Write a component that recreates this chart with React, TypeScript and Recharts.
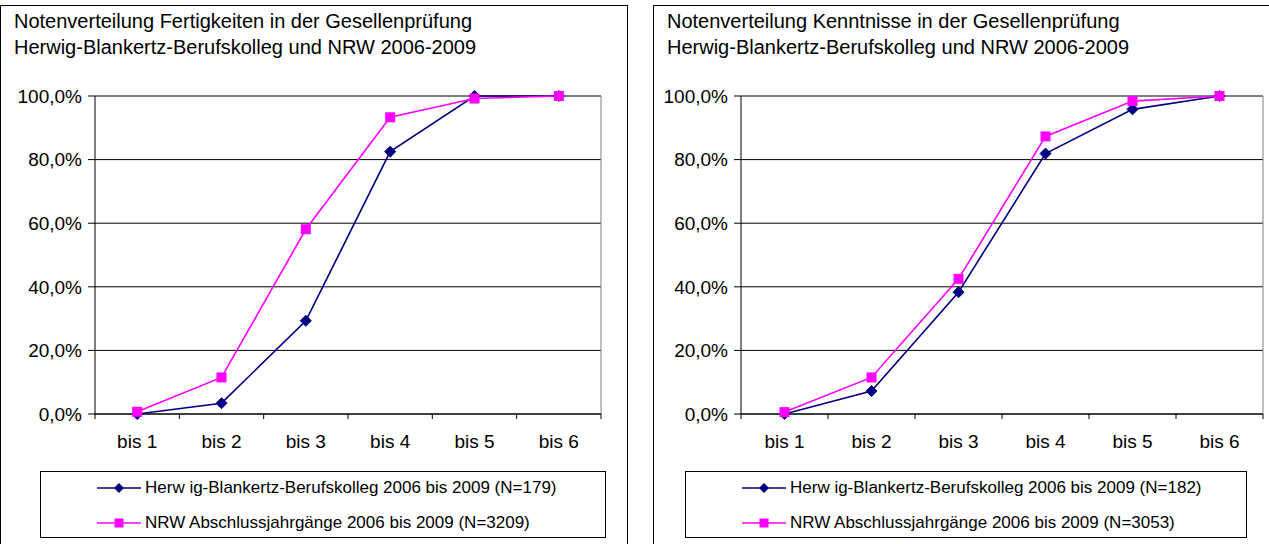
import React from 'react';
import { LineChart, Line, XAxis, YAxis, CartesianGrid } from 'recharts';

const categories = ['bis 1', 'bis 2', 'bis 3', 'bis 4', 'bis 5', 'bis 6'];
const yTicks = [0, 20, 40, 60, 80, 100];

// Fertigkeiten (links)
const fertigkeitenHbk = [0, 3.4, 29.3, 82.5, 100, 100];
const fertigkeitenNrw = [0.7, 11.5, 58.1, 93.3, 99.2, 100];

// Kenntnisse (rechts)
const kenntnisseHbk = [0, 7.2, 38.3, 81.9, 95.8, 100];
const kenntnisseNrw = [0.6, 11.5, 42.5, 87.3, 98.4, 100];

const FONT = '"Liberation Sans", Arial, sans-serif';
const NAVY = '#000080';
const MAGENTA = '#FF00FF';

const pct = (v: number) => `${v.toFixed(1).replace('.', ',')}%`;

const Diamond = (props: any) => {
  const { cx, cy } = props;
  if (cx == null || cy == null) return null;
  const r = 5.5;
  return (
    <polygon
      points={`${cx},${cy - r} ${cx + r},${cy} ${cx},${cy + r} ${cx - r},${cy}`}
      fill={NAVY}
      stroke={NAVY}
    />
  );
};

const Square = (props: any) => {
  const { cx, cy } = props;
  if (cx == null || cy == null) return null;
  return <rect x={cx - 5} y={cy - 5} width={10} height={10} fill={MAGENTA} />;
};

const makeTick = (band: number) => (props: any) => {
  const { x, y, payload, index } = props;
  const last = index === categories.length - 1;
  return (
    <g>
      <line x1={x - band / 2} x2={x - band / 2} y1={y} y2={y + 5} stroke="#000" />
      {last && <line x1={x + band / 2} x2={x + band / 2} y1={y} y2={y + 5} stroke="#000" />}
      <text x={x} y={y + 34} textAnchor="middle" fontSize={19} fontFamily={FONT} fill="#000">
        {payload.value}
      </text>
    </g>
  );
};

interface PanelProps {
  left: number;
  frameWidth: number;
  chartWidth: number;
  yAxisWidth: number;
  marginRight: number;
  title: string[];
  hbk: number[];
  nrw: number[];
  hbkLabel: string;
  nrwLabel: string;
  legendLeft: number;
  legendWidth: number;
}

function Panel(p: PanelProps) {
  const data = categories.map((c, i) => ({ name: c, hbk: p.hbk[i], nrw: p.nrw[i] }));
  const plotW = p.chartWidth - p.yAxisWidth - p.marginRight;
  const band = plotW / categories.length;
  const Tick = makeTick(band);

  return (
    <>
      <div
        style={{
          position: 'absolute',
          left: p.left,
          top: 5,
          width: p.frameWidth,
          height: 545,
          border: '1px solid #000',
          boxSizing: 'border-box',
        }}
      />
      <div
        style={{
          position: 'absolute',
          left: p.left + 14,
          top: 8,
          fontFamily: FONT,
          fontSize: 20,
          lineHeight: '26px',
          color: '#000',
          whiteSpace: 'nowrap',
        }}
      >
        {p.title.map((t) => (
          <div key={t}>{t}</div>
        ))}
      </div>
      <div style={{ position: 'absolute', left: p.left, top: 0 }}>
        <LineChart
          width={p.chartWidth}
          height={544}
          data={data}
          margin={{ top: 96, right: p.marginRight, bottom: 100, left: 0 }}
        >
          <CartesianGrid horizontal vertical={false} stroke="#000" />
          {/* plot-area frame on the right side */}
          <CartesianGrid
            horizontal={false}
            vertical
            stroke="#808080"
            verticalCoordinatesGenerator={({ offset }: any) => [offset.left + offset.width]}
          />
          <XAxis
            dataKey="name"
            height={30}
            axisLine={{ stroke: '#000' }}
            tickLine={false}
            tickSize={0}
            tickMargin={0}
            padding={{ left: band / 2, right: band / 2 }}
            tick={<Tick />}
            interval={0}
          />
          <YAxis
            width={p.yAxisWidth}
            domain={[0, 100]}
            ticks={yTicks}
            tickFormatter={pct}
            axisLine={{ stroke: '#000' }}
            tickLine={{ stroke: '#000' }}
            tickSize={7}
            tickMargin={6}
            tick={{ fontSize: 19, fontFamily: FONT, fill: '#000' }}
          />
          <Line
            dataKey="hbk"
            stroke={NAVY}
            strokeWidth={1.6}
            dot={<Diamond />}
            activeDot={false}
            isAnimationActive={false}
          />
          <Line
            dataKey="nrw"
            stroke={MAGENTA}
            strokeWidth={1.6}
            dot={<Square />}
            activeDot={false}
            isAnimationActive={false}
          />
        </LineChart>
      </div>
      <div
        style={{
          position: 'absolute',
          left: p.legendLeft,
          top: 471,
          width: p.legendWidth,
          height: 67,
          border: '1px solid #000',
          boxSizing: 'border-box',
          fontFamily: FONT,
          fontSize: 17,
          color: '#000',
        }}
      >
        {[
          { label: p.hbkLabel, color: NAVY, icon: 'diamond' },
          { label: p.nrwLabel, color: MAGENTA, icon: 'square' },
        ].map((it, i) => (
          <div
            key={it.label}
            style={{
              position: 'absolute',
              left: 56,
              top: i === 0 ? 4 : 39,
              height: 24,
              display: 'flex',
              alignItems: 'center',
              whiteSpace: 'nowrap',
            }}
          >
            <svg width={44} height={12} style={{ marginRight: 4 }}>
              <line x1={0} x2={44} y1={6} y2={6} stroke={it.color} strokeWidth={1.6} />
              {it.icon === 'diamond' ? (
                <polygon points="22,1 27,6 22,11 17,6" fill={it.color} />
              ) : (
                <rect x={17.5} y={1.5} width={9} height={9} fill={it.color} />
              )}
            </svg>
            <span>{it.label}</span>
          </div>
        ))}
      </div>
    </>
  );
}

export default function App() {
  return (
    <div
      style={{
        position: 'absolute',
        left: 0,
        top: 0,
        width: 1269,
        height: 544,
        overflow: 'hidden',
        background: '#fff',
      }}
    >
      <Panel
        left={0}
        frameWidth={628}
        chartWidth={632}
        yAxisWidth={95}
        marginRight={31}
        title={[
          'Notenverteilung Fertigkeiten in der Gesellenprüfung',
          'Herwig-Blankertz-Berufskolleg und NRW 2006-2009',
        ]}
        hbk={fertigkeitenHbk}
        nrw={fertigkeitenNrw}
        hbkLabel="Herw ig-Blankertz-Berufskolleg 2006 bis 2009 (N=179)"
        nrwLabel="NRW Abschlussjahrgänge 2006 bis 2009 (N=3209)"
        legendLeft={40}
        legendWidth={566}
      />
      <Panel
        left={653}
        frameWidth={620}
        chartWidth={616}
        yAxisWidth={88}
        marginRight={6}
        title={[
          'Notenverteilung Kenntnisse in der Gesellenprüfung',
          'Herwig-Blankertz-Berufskolleg und NRW 2006-2009',
        ]}
        hbk={kenntnisseHbk}
        nrw={kenntnisseNrw}
        hbkLabel="Herw ig-Blankertz-Berufskolleg 2006 bis 2009 (N=182)"
        nrwLabel="NRW Abschlussjahrgänge 2006 bis 2009 (N=3053)"
        legendLeft={685}
        legendWidth={562}
      />
    </div>
  );
}
